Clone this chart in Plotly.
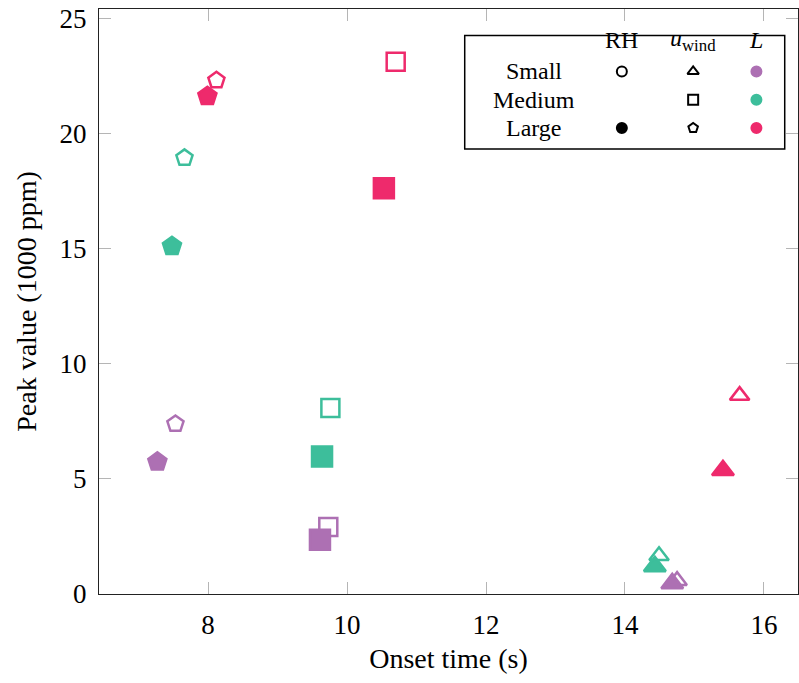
import plotly.graph_objects as go

# one entry per experiment: wind level, L level, RH level, onset time (s), peak (1000 ppm)
wind_level = ["Small"] * 6 + ["Medium"] * 6 + ["Large"] * 6
l_level = ["Small", "Small", "Medium", "Medium", "Large", "Large"] * 3
rh_level = ["Small", "Large"] * 9
onset_time = [14.75, 14.68, 14.49, 14.43, 15.65, 15.41,
              9.73, 9.61, 9.76, 9.64, 10.70, 10.53,
              7.53, 7.27, 7.66, 7.48, 8.12, 7.99]
peak_value = [0.58, 0.46, 1.66, 1.20, 8.62, 5.38,
              2.91, 2.36, 8.08, 5.97, 23.13, 17.63,
              7.39, 5.74, 18.95, 15.11, 22.32, 21.63]

levels = ["Small", "Medium", "Large"]
l_colors = {"Small": "#AD70B3", "Medium": "#3DBE9B", "Large": "#EE2A6C"}
wind_symbols = {"Small": "triangle-up", "Medium": "square", "Large": "pentagon"}
wind_sizes = {"Small": 19, "Medium": 20, "Large": 19}

FONT = "Liberation Serif"

symbols, colors, sizes = [], [], []
for w, l, rh in zip(wind_level, l_level, rh_level):
    filled = rh == "Large"
    symbols.append(wind_symbols[w] + ("" if filled else "-open"))
    colors.append(l_colors[l])
    sizes.append(wind_sizes[w] - (0 if filled else 2))

fig = go.Figure()
fig.add_trace(go.Scatter(
    x=onset_time, y=peak_value, mode="markers",
    marker=dict(symbol=symbols, color=colors, size=sizes, opacity=1,
                line=dict(width=2.5, color=colors)),
    showlegend=False,
))

# ---- hand-made legend table (top right) ----
col_label, col_rh, col_wind, col_l = 0.623, 0.748, 0.850, 0.9405
row_y = {"head": 0.9475, "Small": 0.8933, "Medium": 0.845, "Large": 0.7966}

lx, ly, lsym, lcol = [], [], [], []
for lev in levels:
    if lev != "Medium":
        lx.append(col_rh); ly.append(row_y[lev])
        lsym.append("circle" if lev == "Large" else "circle-open"); lcol.append("black")
    lx.append(col_wind); ly.append(row_y[lev])
    lsym.append(wind_symbols[lev] + "-open"); lcol.append("black")
    lx.append(col_l); ly.append(row_y[lev])
    lsym.append("circle"); lcol.append(l_colors[lev])

fig.add_trace(go.Scatter(
    x=lx, y=ly, mode="markers", xaxis="x2", yaxis="y2",
    marker=dict(symbol=lsym, color=lcol, size=10, opacity=1,
                line=dict(width=2, color=lcol)),
    showlegend=False, hoverinfo="skip",
))

annotations = [
    dict(x=col_rh, y=row_y["head"], text="RH"),
    dict(x=col_wind, y=row_y["head"], text="<i>u</i><sub>wind</sub>"),
    dict(x=col_l, y=row_y["head"], text="<i>L</i>"),
]
for lev in levels:
    annotations.append(dict(x=col_label, y=row_y[lev], text=lev))
for a in annotations:
    a.update(xref="paper", yref="paper", showarrow=False,
             xanchor="center", yanchor="middle",
             font=dict(family=FONT, size=24, color="black"))

axis_common = dict(
    showline=True, linecolor="#222222", linewidth=1.4, mirror="ticks",
    ticks="inside", ticklen=12, tickwidth=1, tickcolor="#b5b5b5",
    showgrid=False, zeroline=False, automargin=False,
    tickfont=dict(family=FONT, size=27, color="black"),
)

fig.update_layout(
    width=799, height=683,
    margin=dict(l=99, r=1, t=9, b=89),
    plot_bgcolor="white", paper_bgcolor="white",
    xaxis=dict(range=[6.43, 16.49], tickvals=[8, 10, 12, 14, 16],
               title=dict(text="Onset time (s)", standoff=9,
                          font=dict(family=FONT, size=28, color="black")),
               ticklabelstandoff=6, **axis_common),
    yaxis=dict(range=[0, 25.42], tickvals=[0, 5, 10, 15, 20, 25],
               title=dict(text="Peak value (1000 ppm)", standoff=14,
                          font=dict(family=FONT, size=28, color="black")),
               ticklabelstandoff=6, **axis_common),
    xaxis2=dict(range=[0, 1], overlaying="x", visible=False, fixedrange=True),
    yaxis2=dict(range=[0, 1], overlaying="y", visible=False, fixedrange=True),
    shapes=[dict(type="rect", xref="paper", yref="paper",
                 x0=0.5232, x1=0.981, y0=0.7607, y1=0.9549,
                 line=dict(color="black", width=1.5), fillcolor="white", layer="below")],
    annotations=annotations,
)

# drop the browser's default 8px body margin so the figure fills the window
fig.write_html("out.html", config={"displayModeBar": False},
               post_script="document.body.style.margin='0';")
